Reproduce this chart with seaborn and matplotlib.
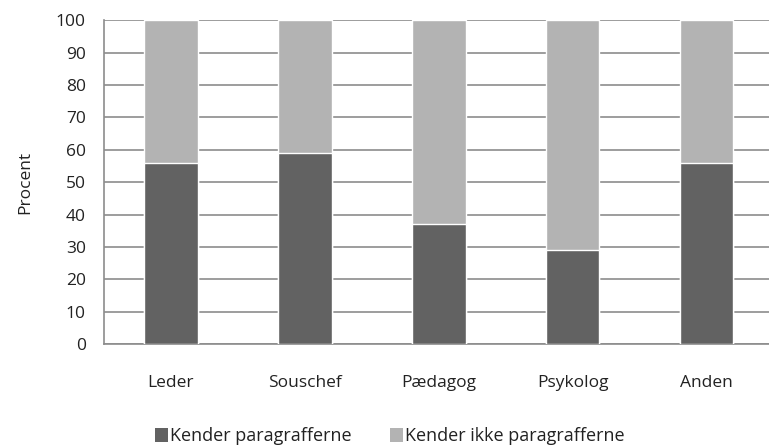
import numpy as np
import pandas as pd
import matplotlib
matplotlib.use("Agg")
import matplotlib.pyplot as plt
import seaborn as sns
from matplotlib.patches import Patch

categories = ["Leder", "Souschef", "Pædagog", "Psykolog", "Anden"]
kender = [56, 59, 37, 29, 56]
kender_ikke = [44, 41, 63, 71, 44]
series_labels = ["Kender paragrafferne", "Kender ikke paragrafferne"]

dark = "#626262"
light = "#b3b3b3"
grid_col = "#8c8c8c"
text_col = "#222222"

sns.set_style("white")
plt.rcParams["font.family"] = ["Open Sans", "DejaVu Sans"]

df = pd.DataFrame({
    "kategori": categories,
    "kender": kender,
    "total": np.array(kender) + np.array(kender_ikke),
})

fig = plt.figure(figsize=(7.69, 4.48), dpi=100)
# axes runs slightly past the right edge, like the original
ax = fig.add_axes([0.135, 0.232, 0.871, 0.723])

sns.barplot(data=df, x="kategori", y="total", color=light, width=0.4,
            saturation=1, ax=ax, zorder=3)
sns.barplot(data=df, x="kategori", y="kender", color=dark, width=0.4,
            saturation=1, ax=ax, zorder=3)

ax.set_ylim(0, 100)
ax.set_xlim(-0.5, len(categories) - 0.5)
ax.set_yticks(range(0, 101, 10))
ax.yaxis.grid(True, color=grid_col, linewidth=1.2, zorder=0)
ax.set_axisbelow(True)

for side in ["top", "right"]:
    ax.spines[side].set_visible(False)
for side in ["left", "bottom"]:
    ax.spines[side].set_color(grid_col)
    ax.spines[side].set_linewidth(1.2)

ax.set_xticks(np.arange(-0.5, len(categories), 1), minor=True)
ax.tick_params(axis="x", which="major", length=0, pad=22, labelsize=12.5)
ax.tick_params(axis="x", which="minor", length=6, width=1.2, color=grid_col, direction="out")
ax.tick_params(axis="y", length=6, width=1.2, color=grid_col, direction="out",
               labelsize=12.5, pad=7)
for lbl in ax.get_xticklabels() + ax.get_yticklabels():
    lbl.set_color(text_col)

ax.set_xlabel("")
ax.set_ylabel("Procent", fontsize=12.5, color=text_col, labelpad=16)

handles = [Patch(facecolor=dark, edgecolor="none"), Patch(facecolor=light, edgecolor="none")]
fig.legend(handles, series_labels, loc="lower center", bbox_to_anchor=(0.507, -0.03),
           ncol=2, frameon=False, fontsize=13, handlelength=0.75, handleheight=0.75,
           handletextpad=0.1, columnspacing=2.1, labelcolor=text_col)

fig.savefig("out.png", dpi=100)
